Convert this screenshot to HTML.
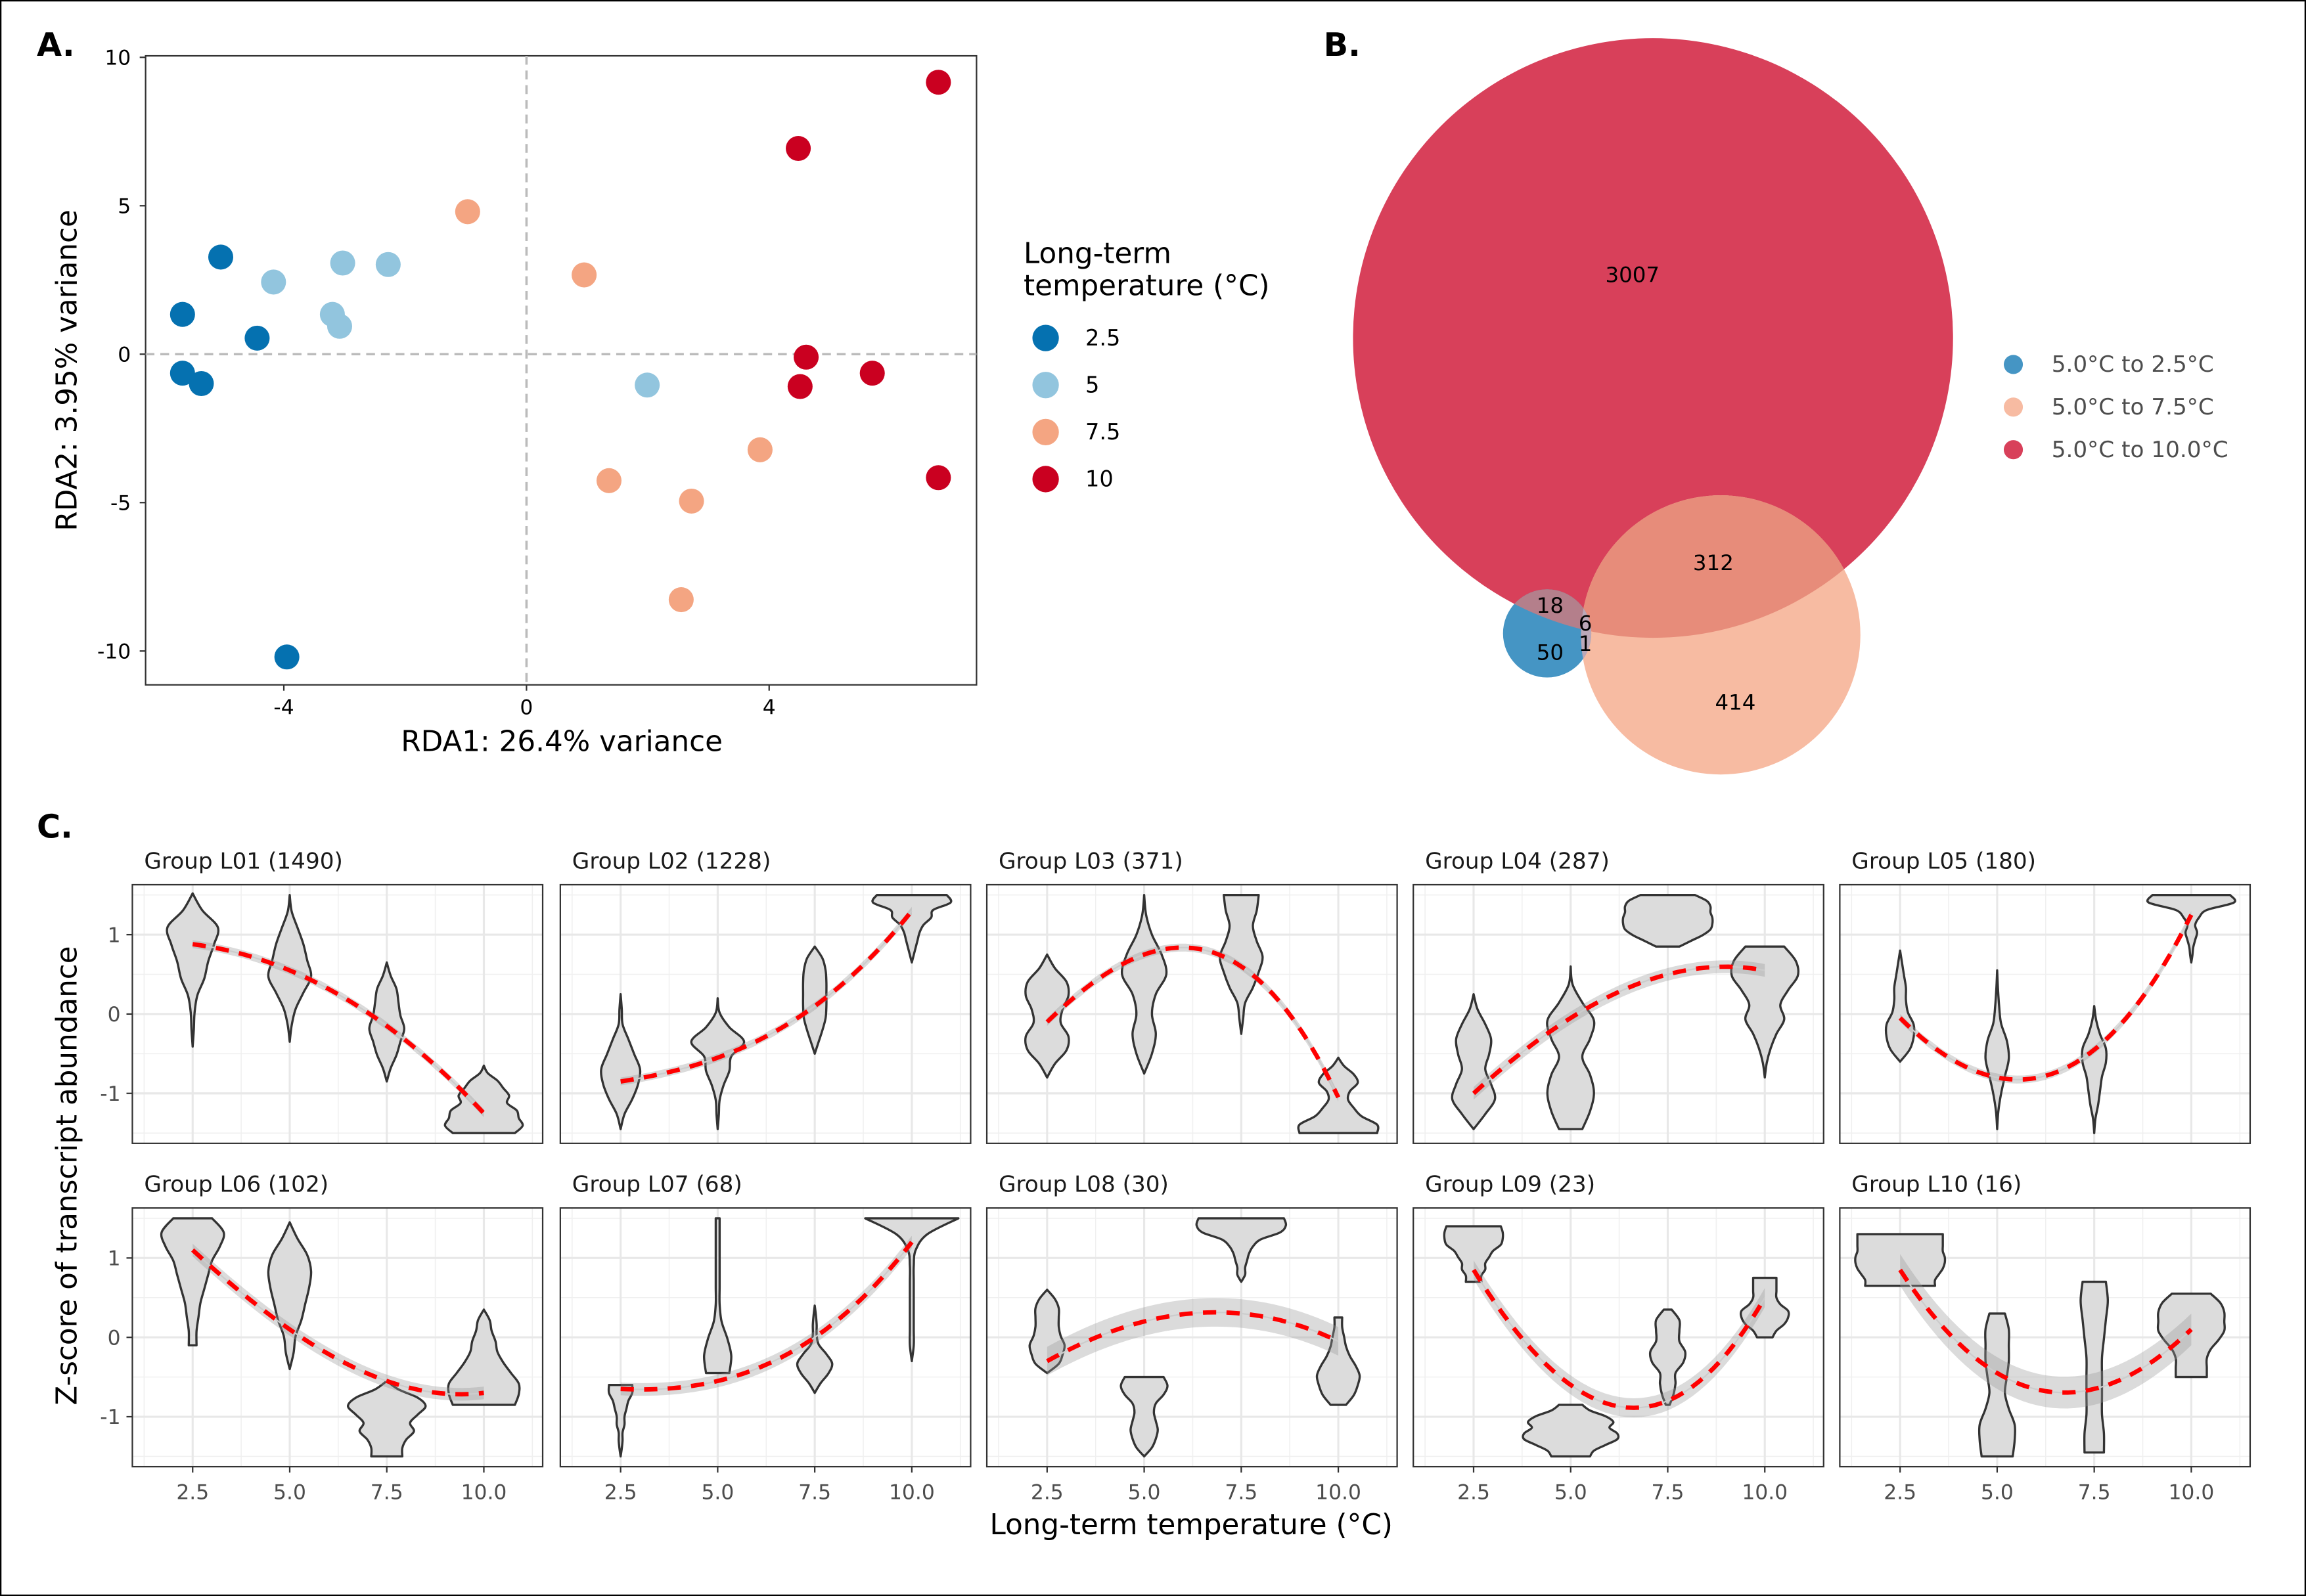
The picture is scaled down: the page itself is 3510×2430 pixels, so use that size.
<!DOCTYPE html>
<html><head><meta charset="utf-8"><style>
html,body{margin:0;padding:0;background:#fff}
svg{display:block}
text{font-family:"DejaVu Sans","Liberation Sans",sans-serif}
</style></head><body>
<svg id="fig" xmlns="http://www.w3.org/2000/svg" width="3510" height="2430" viewBox="0 0 1568 1086" preserveAspectRatio="none">
<rect x="0.5" y="0.5" width="1567" height="1085" fill="#fff" stroke="#000" stroke-width="1"/>
<text x="25" y="38" font-size="22" font-weight="bold">A.</text>
<text x="900" y="38" font-size="22" font-weight="bold">B.</text>
<text x="25" y="570" font-size="22" font-weight="bold">C.</text>
<g id="pa"></g>
<g id="pb"></g>
<g id="pc"></g>
</svg>
<script>
const NS="http://www.w3.org/2000/svg";
function mk(parent,tag,attrs,txt){const e=document.createElementNS(NS,tag);for(const k in attrs)e.setAttribute(k,attrs[k]);if(txt!==undefined)e.textContent=txt;parent.appendChild(e);return e;}

// ---------- Panel A data ----------
const rdaGroups=["2.5","5","7.5","10"];
const rdaColors=["#0571b0","#92c5de","#f4a582","#ca0020"];
const rda1_g25=[-5.67,-5.04,-5.67,-5.36,-4.44,-3.95];
const rda2_g25=[1.34,3.27,-0.64,-0.99,0.54,-10.2];
const rda1_g5=[-4.17,-3.03,-3.2,-3.08,-2.28,1.99];
const rda2_g5=[2.43,3.07,1.34,0.94,3.02,-1.04];
const rda1_g75=[-0.97,0.95,1.36,2.72,3.85,2.55];
const rda2_g75=[4.8,2.67,-4.26,-4.95,-3.22,-8.27];
const rda1_g10=[6.79,4.48,4.61,4.51,5.7,6.79];
const rda2_g10=[9.16,6.93,-0.1,-1.09,-0.64,-4.16];
const rdaXTicks=[-4,0,4];
const rdaYTicks=[10,5,0,-5,-10];

// ---------- Panel B data ----------
const vennCounts=[3007,312,18,6,1,50,414];
const vennLegend=["5.0°C to 2.5°C","5.0°C to 7.5°C","5.0°C to 10.0°C"];

// ---------- Panel C data ----------
const temps=[2.5,5.0,7.5,10.0];
const groupNames=["Group L01 (1490)","Group L02 (1228)","Group L03 (371)","Group L04 (287)","Group L05 (180)","Group L06 (102)","Group L07 (68)","Group L08 (30)","Group L09 (23)","Group L10 (16)"];
const violinTop=[[1.52,1.5,0.65,-0.65],[0.25,0.2,0.85,1.5],[0.75,1.5,1.5,-0.55],[0.25,0.6,1.5,0.85],[0.8,0.55,0.1,1.5],[1.5,1.45,-0.55,0.35],[-0.6,1.5,0.4,1.5],[0.6,-0.5,1.5,0.25],[1.4,-0.85,0.35,0.75],[1.3,0.3,0.7,0.55]];
const violinBottom=[[-0.41,-0.35,-0.85,-1.5],[-1.45,-1.45,-0.5,0.65],[-0.8,-0.75,-0.25,-1.5],[-1.45,-1.45,0.85,-0.8],[-0.6,-1.45,-1.5,0.65],[-0.1,-0.4,-1.5,-0.85],[-1.5,-0.45,-0.7,-0.3],[-0.45,-1.5,0.7,-0.85],[0.7,-1.5,-0.85,0.0],[0.65,-1.5,-1.45,-0.5]];
const violinWidths=[
 [[0,0.25,0.65,0.55,0.4,0.3,0.12,0.05,0.03,0],[0,0.05,0.2,0.35,0.45,0.55,0.35,0.15,0.05,0],[0,0.1,0.25,0.3,0.35,0.45,0.35,0.25,0.1,0],[0,0.1,0.35,0.5,0.65,0.6,0.85,0.9,1.0,0.8]],
 [[0,0.03,0.05,0.2,0.35,0.5,0.45,0.3,0.1,0],[0,0.05,0.3,0.68,0.35,0.3,0.15,0.05,0.03,0],[0,0.2,0.28,0.3,0.3,0.3,0.28,0.2,0.1,0],[0.9,1.0,0.55,0.5,0.3,0.2,0.15,0.1,0.05,0]],
 [[0,0.2,0.5,0.55,0.4,0.35,0.55,0.5,0.2,0],[0,0.05,0.2,0.45,0.57,0.3,0.2,0.3,0.2,0],[0.45,0.4,0.3,0.4,0.55,0.45,0.3,0.1,0.05,0],[0,0.15,0.4,0.5,0.3,0.25,0.4,0.6,1.0,1.0]],
 [[0,0.1,0.3,0.45,0.4,0.3,0.45,0.55,0.3,0],[0,0.05,0.3,0.6,0.5,0.3,0.5,0.6,0.5,0.3],[0.7,1.0,1.1,1.1,1.15,1.15,1.1,0.9,0.6,0.3],[0.5,0.8,0.85,0.6,0.4,0.5,0.3,0.15,0.05,0]],
 [[0,0.05,0.1,0.15,0.15,0.2,0.35,0.35,0.25,0],[0,0.02,0.05,0.1,0.25,0.3,0.2,0.1,0.03,0],[0,0.05,0.15,0.3,0.3,0.2,0.15,0.1,0.03,0],[1.0,1.1,0.4,0.2,0.1,0.15,0.1,0.05,0.03,0]],
 [[0.5,0.8,0.7,0.5,0.4,0.3,0.2,0.15,0.1,0.1],[0,0.2,0.45,0.55,0.5,0.4,0.3,0.15,0.1,0],[0,0.3,0.8,1.0,0.8,0.6,0.7,0.5,0.4,0.4],[0,0.15,0.2,0.3,0.35,0.5,0.7,0.9,0.9,0.8]],
 [[0.3,0.3,0.2,0.15,0.1,0.1,0.05,0.05,0.03,0],[0.05,0.05,0.05,0.05,0.05,0.05,0.1,0.25,0.35,0.3],[0,0.03,0.05,0.05,0.1,0.3,0.45,0.35,0.15,0],[1.2,0.4,0.1,0.05,0.05,0.05,0.05,0.05,0.05,0]],
 [[0,0.2,0.3,0.3,0.3,0.35,0.45,0.4,0.3,0],[0.5,0.6,0.5,0.3,0.25,0.3,0.35,0.3,0.2,0],[1.1,1.15,1.0,0.5,0.3,0.2,0.15,0.1,0.1,0],[0.1,0.1,0.15,0.2,0.3,0.45,0.55,0.5,0.4,0.2]],
 [[0.7,0.75,0.75,0.7,0.5,0.4,0.3,0.3,0.2,0.2],[0.3,0.5,0.9,1.1,1.0,1.2,1.2,0.9,0.6,0.5],[0.1,0.3,0.3,0.3,0.45,0.4,0.2,0.2,0.15,0.05],[0.3,0.3,0.3,0.3,0.4,0.6,0.6,0.5,0.3,0.2]],
 [[1.1,1.1,1.1,1.1,1.15,1.15,1.1,1.0,0.9,0.9],[0.2,0.3,0.3,0.3,0.25,0.2,0.3,0.45,0.45,0.4],[0.3,0.35,0.3,0.25,0.2,0.2,0.2,0.2,0.25,0.25],[0.5,0.75,0.85,0.85,0.85,0.7,0.5,0.4,0.4,0.4]]
];
const fitValues=[[0.88,0.55,-0.15,-1.25],[-0.85,-0.55,0.1,1.3],[-0.1,0.75,0.6,-1.05],[-1.0,-0.05,0.5,0.55],[-0.05,-0.8,-0.45,1.25],[1.1,0.1,-0.55,-0.7],[-0.65,-0.55,0.0,1.2],[-0.3,0.2,0.3,-0.05],[0.85,-0.6,-0.8,0.5],[0.85,-0.45,-0.65,0.1]];
const fitSE=[0.05,0.05,0.05,0.08,0.05,0.08,0.08,0.18,0.12,0.2];
const cYTicks=[1,0,-1];

// ---------- Panel A ----------
(function(){
 const g=document.getElementById('pa');
 const L=99,R=664,T=38,B=466;
 const xs=v=>358+v*41.25, ys=v=>241-v*20.2;
 const fr=mk(g,'rect',{x:L,y:T,width:R-L,height:B-T,fill:'#fff',stroke:'#333','stroke-width':1});
 
 const h=mk(g,'line',{x1:L,x2:R,y1:ys(0),y2:ys(0),stroke:'#bbb','stroke-width':1.6,'stroke-dasharray':'6,4'});
 
 const v=mk(g,'line',{x1:xs(0),x2:xs(0),y1:T,y2:B,stroke:'#bbb','stroke-width':1.6,'stroke-dasharray':'6,4'});
 
 rdaXTicks.forEach(t=>{mk(g,'line',{x1:xs(t),x2:xs(t),y1:B,y2:B+4,stroke:'#333'});
  const e=mk(g,'text',{x:xs(t),y:B+20,'font-size':14,'text-anchor':'middle',fill:'#000'},String(t));
  });
 rdaYTicks.forEach(t=>{mk(g,'line',{x1:L-4,x2:L,y1:ys(t),y2:ys(t),stroke:'#333'});
  const e=mk(g,'text',{x:L-10,y:ys(t)+5,'font-size':14,'text-anchor':'end',fill:'#000'},String(t));
  });
 const xt=mk(g,'text',{x:382,y:511,'font-size':19.5,'text-anchor':'middle'},'RDA1: 26.4% variance');
 
 const yt=mk(g,'text',{x:0,y:0,'font-size':19.5,'text-anchor':'middle',transform:'translate(52,252) rotate(-90)'},'RDA2: 3.95% variance');
 
 const X=[rda1_g25,rda1_g5,rda1_g75,rda1_g10],Y=[rda2_g25,rda2_g5,rda2_g75,rda2_g10];
 X.forEach((arr,gi)=>arr.forEach((xv,i)=>{const c=mk(g,'circle',{cx:xs(xv),cy:ys(Y[gi][i]),r:8.5,fill:rdaColors[gi]});
  }));
 const lt=mk(g,'text',{x:696,y:179,'font-size':19.5},'Long-term');
 
 mk(g,'text',{x:696,y:201,'font-size':19.5},'temperature (°C)');
 rdaGroups.forEach((n,i)=>{const c=mk(g,'circle',{cx:711,cy:230+i*32,r:9,fill:rdaColors[i]});
  
  mk(g,'text',{x:738,y:235+i*32,'font-size':15},n);});
})();

// ---------- Panel B ----------
(function(){
 const g=document.getElementById('pb');
 const defs=mk(g,'defs',{});
 const c1=mk(defs,'clipPath',{id:'redc'});mk(c1,'circle',{cx:1124,cy:230,r:204});
 const c2=mk(defs,'clipPath',{id:'orc'});mk(c2,'ellipse',{cx:1170,cy:432,rx:95,ry:95});
 const red=mk(g,'circle',{cx:1124,cy:230,r:204,fill:'#d8405a'});
 
 const or=mk(g,'ellipse',{cx:1170,cy:432,rx:95,ry:95,fill:'#f7bba2'});
 
 const ov=mk(g,'ellipse',{cx:1170,cy:432,rx:95,ry:95,fill:'#e78c7a','clip-path':'url(#redc)'});
 
 const bl=mk(g,'circle',{cx:1052,cy:431,r:30,fill:'#4595c4'});
 
 mk(g,'circle',{cx:1052,cy:431,r:30,fill:'#b47f8b','clip-path':'url(#redc)'});
 mk(g,'circle',{cx:1052,cy:431,r:30,fill:'#bca8b8','clip-path':'url(#orc)'});
 const pos=[[1110,192],[1165,388],[1054,417],[1078,429],[1078,443],[1054,449],[1180,483]];
 vennCounts.forEach((v,i)=>{const t=mk(g,'text',{x:pos[i][0],y:pos[i][1],'font-size':14.5,'text-anchor':'middle'},String(v));
  });
 const lc=['#4595c4','#f7bba2','#d8405a'];
 vennLegend.forEach((n,i)=>{const c=mk(g,'circle',{cx:1369,cy:248+i*29,r:6.5,fill:lc[i]});
  
  mk(g,'text',{x:1395,y:253+i*29,'font-size':15.3,fill:'#4d4d4d'},n);});
})();

// ---------- Panel C ----------
(function(){
 const g=document.getElementById('pc');
 const lefts=[90,381,671,961,1251], W=279, tops=[602,822], H=176;
 function crPath(pts){let d='M'+pts[0][0]+','+pts[0][1];
  for(let i=0;i<pts.length-1;i++){const p0=pts[Math.max(0,i-1)],p1=pts[i],p2=pts[i+1],p3=pts[Math.min(pts.length-1,i+2)];
   d+=' C'+(p1[0]+(p2[0]-p0[0])/6)+','+(p1[1]+(p2[1]-p0[1])/6)+' '+(p2[0]-(p3[0]-p1[0])/6)+','+(p2[1]-(p3[1]-p1[1])/6)+' '+p2[0]+','+p2[1];}
  return d;}
 function lag(t){let s=0;for(let i=0;i<4;i++){let b=1;for(let j=0;j<4;j++)if(j!==i)b*=(t-temps[j])/(temps[i]-temps[j]);s+=b*arguments[1][i];}return s;}
 groupNames.forEach((name,gi)=>{
  const col=gi%5,row=Math.floor(gi/5),L=lefts[col],T=tops[row];
  const xs=v=>L+41+(v-2.5)*26.4, ys=v=>T+88-v*54;
  const pg=mk(g,'g',{});
  
  mk(pg,'rect',{x:L,y:T,width:W,height:H,fill:'#fff'});
  [1.25,3.75,6.25,8.75,11.25].forEach(v=>{if(xs(v)>L&&xs(v)<L+W)mk(pg,'line',{x1:xs(v),x2:xs(v),y1:T,y2:T+H,stroke:'#f0f0f0','stroke-width':0.7});});
  [-1.5,-0.5,0.5,1.5].forEach(v=>mk(pg,'line',{x1:L,x2:L+W,y1:ys(v),y2:ys(v),stroke:'#f0f0f0','stroke-width':0.7}));
  temps.forEach(v=>mk(pg,'line',{x1:xs(v),x2:xs(v),y1:T,y2:T+H,stroke:'#e8e8e8','stroke-width':1.4}));
  cYTicks.forEach(v=>mk(pg,'line',{x1:L,x2:L+W,y1:ys(v),y2:ys(v),stroke:'#e8e8e8','stroke-width':1.4}));
  temps.forEach((tv,ti)=>{
   const w=violinWidths[gi][ti],hi=violinTop[gi][ti],lo=violinBottom[gi][ti],n=w.length;
   const right=[],left=[];
   for(let i=0;i<n;i++){const yv=hi+(lo-hi)*i/(n-1);right.push([xs(tv+w[i]),ys(yv)]);left.push([xs(tv-w[i]),ys(yv)]);}
   let d=crPath(right);
   const lr=left.slice().reverse();
   d+=' L'+lr[0][0]+','+lr[0][1]+crPath(lr).replace(/^M[^ C]+/,'')+' Z';
   const vp=mk(pg,'path',{d:d,fill:'#dcdcdc',stroke:'#333','stroke-width':1.5,'stroke-linejoin':'round'});
   
  });
  const fv=fitValues[gi],se=fitSE[gi];const up=[],dn=[],mid=[];
  for(let k=0;k<=40;k++){const t=2.5+7.5*k/40,y=lag(t,fv);mid.push([xs(t),ys(y)]);up.push([xs(t),ys(y+se)]);dn.push([xs(t),ys(y-se)]);}
  const rb=mk(pg,'path',{d:'M'+up.map(p=>p.join(',')).join(' L')+' L'+dn.reverse().map(p=>p.join(',')).join(' L')+' Z',fill:'#999','fill-opacity':0.35});
  
  mk(pg,'path',{d:'M'+mid.map(p=>p.join(',')).join(' L'),fill:'none',stroke:'#ccc','stroke-width':1});
  const fl=mk(pg,'path',{d:'M'+mid.map(p=>p.join(',')).join(' L'),fill:'none',stroke:'#ff0000','stroke-width':3,'stroke-dasharray':'9,7'});
  
  mk(pg,'rect',{x:L,y:T,width:W,height:H,fill:'none',stroke:'#333','stroke-width':1});
  const st=mk(pg,'text',{x:L+8,y:T-11,'font-size':15.3,fill:'#1a1a1a'},name);
  
  if(col===0)cYTicks.forEach(v=>{mk(pg,'line',{x1:L-4,x2:L,y1:ys(v),y2:ys(v),stroke:'#333'});
   const e=mk(pg,'text',{x:L-8,y:ys(v)+5,'font-size':14,'text-anchor':'end',fill:'#4d4d4d'},String(v));
   });
  if(row===1)temps.forEach(v=>{mk(pg,'line',{x1:xs(v),x2:xs(v),y1:T+H,y2:T+H+4,stroke:'#333'});
   const e=mk(pg,'text',{x:xs(v),y:T+H+22,'font-size':14,'text-anchor':'middle',fill:'#4d4d4d'},v.toFixed(1));
   });
 });
 const xt=mk(g,'text',{x:810,y:1044,'font-size':19.5,'text-anchor':'middle'},'Long-term temperature (°C)');
 
 const yt=mk(g,'text',{x:0,y:0,'font-size':19.5,'text-anchor':'middle',transform:'translate(52,800) rotate(-90)'},'Z-score of transcript abundance');
 
})();
</script>
</body></html>
